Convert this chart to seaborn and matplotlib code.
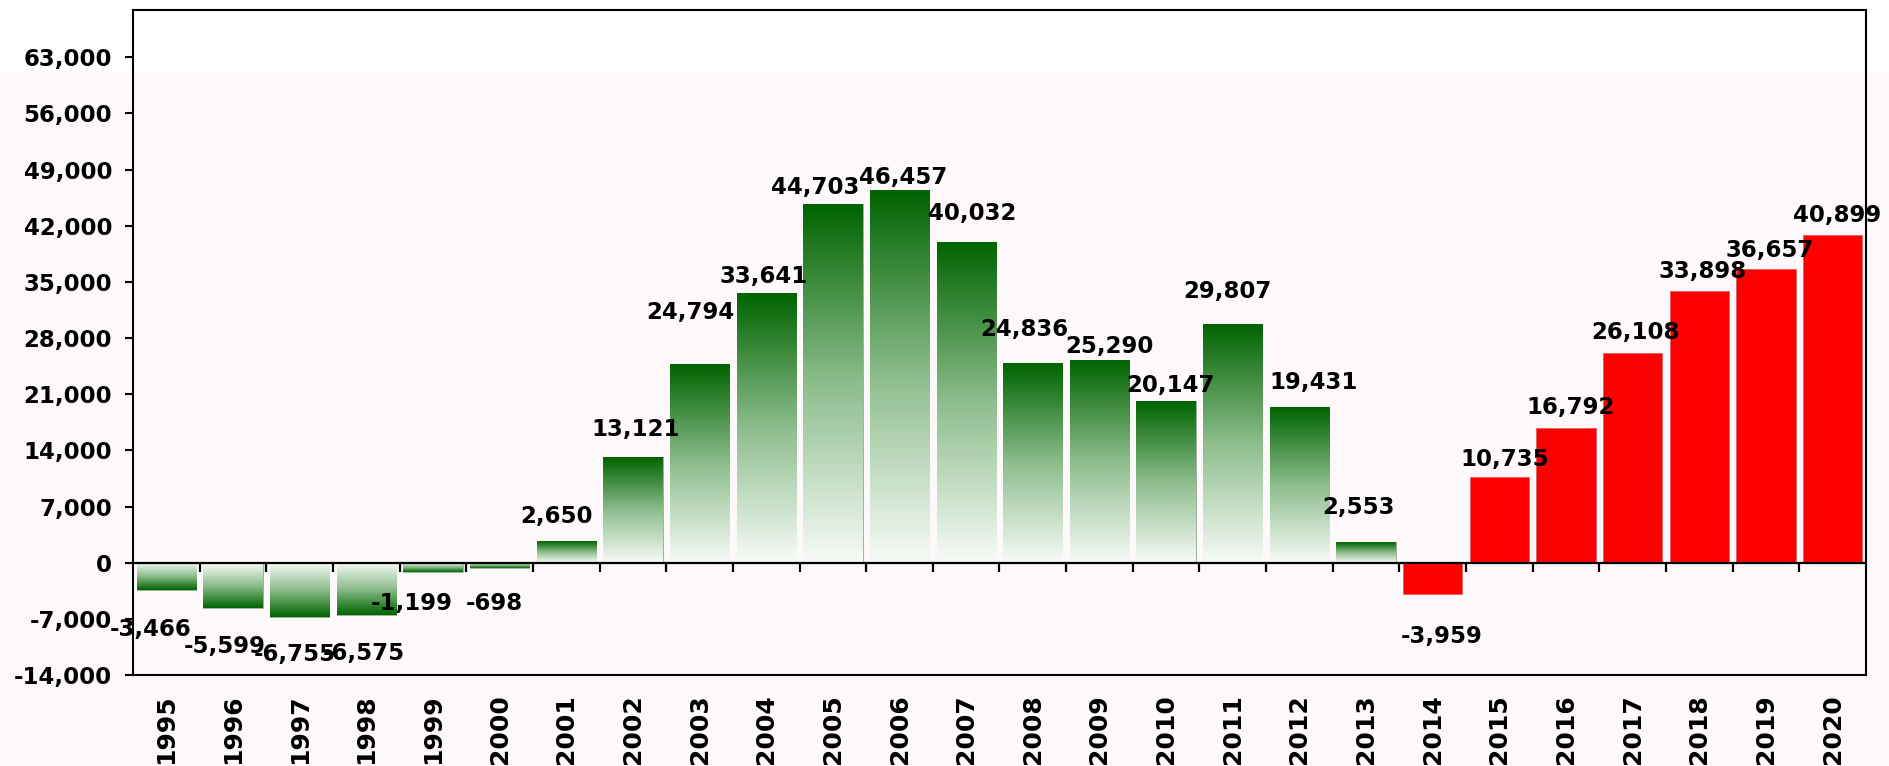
import matplotlib
matplotlib.use("Agg")
import matplotlib.pyplot as plt
import numpy as np
import pandas as pd
import seaborn as sns
from matplotlib.colors import LinearSegmentedColormap
from matplotlib.patches import Rectangle
from matplotlib.ticker import FuncFormatter

# data
years = [str(y) for y in range(1995, 2021)]
values = [-3466, -5599, -6755, -6575, -1199, -698, 2650, 13121, 24794, 33641,
          44703, 46457, 40032, 24836, 25290, 20147, 29807, 19431, 2553,
          -3959, 10735, 16792, 26108, 33898, 36657, 40899]
# 1995-2013 green gradient, 2014-2020 solid red
groups = ["green"] * 19 + ["red"] * 7
y_ticks = list(range(-14000, 63001, 7000))

# label placement as in the original (pixels): sideways shift and gap to bar end
label_dx = [-16, -8, -5, -2, -21, -5, -10, 3, -9, -3, -18, 4, 6, -9, 10, 4,
            -5, 14, -8, 9, 5, 5, 3, 3, 4, 4]
label_gap = [30, 29, 28, 29, 22, 26, 18, 21, 45, 10, 10, 6, 22, 27, 7, 9,
             26, 18, 28, 33, 11, 14, 14, 13, 12, 13]

bg = "#fdf9fb"
dark_green = "#006400"
red = "#ff0000"

sns.set_style("white")
plt.rcParams["font.family"] = ["DejaVu Sans"]
plt.rcParams["font.weight"] = "bold"
plt.rcParams["text.color"] = "black"
plt.rcParams["xtick.color"] = "black"
plt.rcParams["ytick.color"] = "black"

df = pd.DataFrame({"year": years, "value": values, "group": groups})

fig = plt.figure(figsize=(18.9, 7.66), dpi=100, facecolor=bg)
# white strip across the top of the picture
fig.patches.append(Rectangle((0, 1 - 70 / 766), 1, 70 / 766, transform=fig.transFigure,
                             color="white", zorder=-1))
ax = fig.add_axes([133 / 1890, 1 - 675 / 766, (1866 - 133) / 1890, (675 - 10) / 766])
ax.set_facecolor("none")

pal = {"green": dark_green, "red": red}
sns.barplot(data=df, x="year", y="value", hue="group", palette=pal, dodge=False,
            saturation=1, width=0.89, legend=False, ax=ax, zorder=2)

# green bars get a gradient: dark at the far end, fading to white at zero
cmap = LinearSegmentedColormap.from_list("g", ["#f8fbf8", "#8dbd8d", dark_green])
grad = np.linspace(0, 1, 256).reshape(-1, 1)
for p in ax.patches:
    fc = p.get_facecolor()
    if fc[0] > 0.5:  # red bar
        p.set_edgecolor("#e06060")
        p.set_linewidth(0.6)
        continue
    x0, w = p.get_x(), p.get_width()
    y0, h = p.get_y(), p.get_height()
    lo, hi = min(y0, y0 + h), max(y0, y0 + h)
    arr = grad if hi > 0 else grad[::-1]
    im = ax.imshow(arr, cmap=cmap, aspect="auto", origin="lower",
                   extent=(x0, x0 + w, lo, hi), zorder=2, interpolation="bilinear")
    im.set_clip_path(p)
    p.set_facecolor("none")
    p.set_edgecolor("#8aa88a")
    p.set_linewidth(0.6)

ax.set_xlim(-0.5, len(years) - 0.5)
ax.set_ylim(-14000, 68900)

# value labels
px = 72 / 100  # pixels -> points
for p in ax.patches:
    h = p.get_height()
    cx = p.get_x() + p.get_width() / 2
    i = int(round(cx))
    if h >= 0:
        off = label_gap[i] * px
    else:
        off = -(label_gap[i] + 16) * px
    ax.annotate(f"{h:,.0f}", xy=(cx, h), xytext=(label_dx[i] * px, off),
                textcoords="offset points", ha="center", va="baseline",
                fontsize=16.5, fontweight="bold", zorder=5, annotation_clip=False)

# zero line with small ticks between the bars
ax.axhline(0, color="black", lw=1.6, zorder=3)
ax.vlines(np.arange(len(years) - 1) + 0.5, -1100, 0, color="black", lw=1.6, zorder=3)

ax.set_yticks(y_ticks)
ax.yaxis.set_major_formatter(FuncFormatter(lambda v, pos: f"{v:,.0f}"))
ax.tick_params(axis="y", length=6, width=1.5, pad=9, labelsize=16.5, left=True)
ax.tick_params(axis="x", length=0, pad=14, labelsize=18, rotation=90)
for lab in ax.get_xticklabels() + ax.get_yticklabels():
    lab.set_fontweight("bold")
ax.set_xlabel("")
ax.set_ylabel("")
for s in ax.spines.values():
    s.set_visible(True)
    s.set_color("black")
    s.set_linewidth(1.5)

fig.savefig("out.png", dpi=100, facecolor=bg)
